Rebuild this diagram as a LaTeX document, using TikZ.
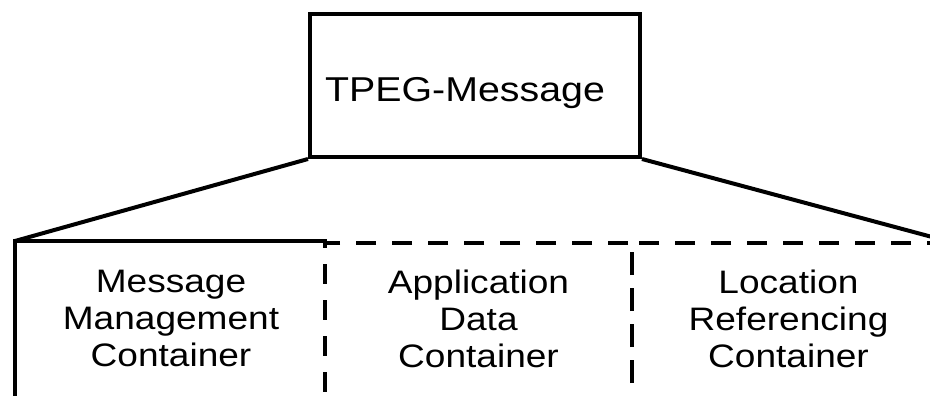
\documentclass[tikz,border=0pt]{standalone}
\usepackage{fontspec}
\setmainfont{Liberation Sans}[FakeStretch=1.14]
\begin{document}
\begin{tikzpicture}[x=1pt,y=-1pt, line width=4pt,
 topbox/.style={draw, rectangle, minimum width=330pt, minimum height=143pt, inner sep=0pt},
 contbox/.style={rectangle, minimum width=#1, minimum height=157pt, inner sep=0pt, align=center, text depth=6pt, font=\fontsize{32.5}{37}\selectfont, anchor=north west},
 dashbox/.style={draw, dash pattern=on 20pt off 16pt},
 link/.style={line cap=butt}]
\clip (0,0) rectangle (930,396);
\fill[white] (0,0) rectangle (930,396);
\node[topbox] (tpeg) at (475,85.5) {};
\node[font=\fontsize{34.5}{40}\selectfont, anchor=base] (tpegtext) at (465,101.7) {TPEG-Message};
\node[contbox=308pt] (mm) at (15,241) {Message\\Management\\Container};
\node[contbox=307pt, dashbox] (ad) at (323,241) {Application\\Data\\Container};
\node[contbox=313pt, dashbox] (lr) at (630,241) {Location\\Referencing\\Container};
\draw (mm.north east) -- (mm.north west) -- (mm.south west) -- (mm.south east);
\draw[link] (tpeg.south west) -- (mm.north west);
\draw[link] (tpeg.south east) -- (lr.north east);
\end{tikzpicture}
\end{document}
